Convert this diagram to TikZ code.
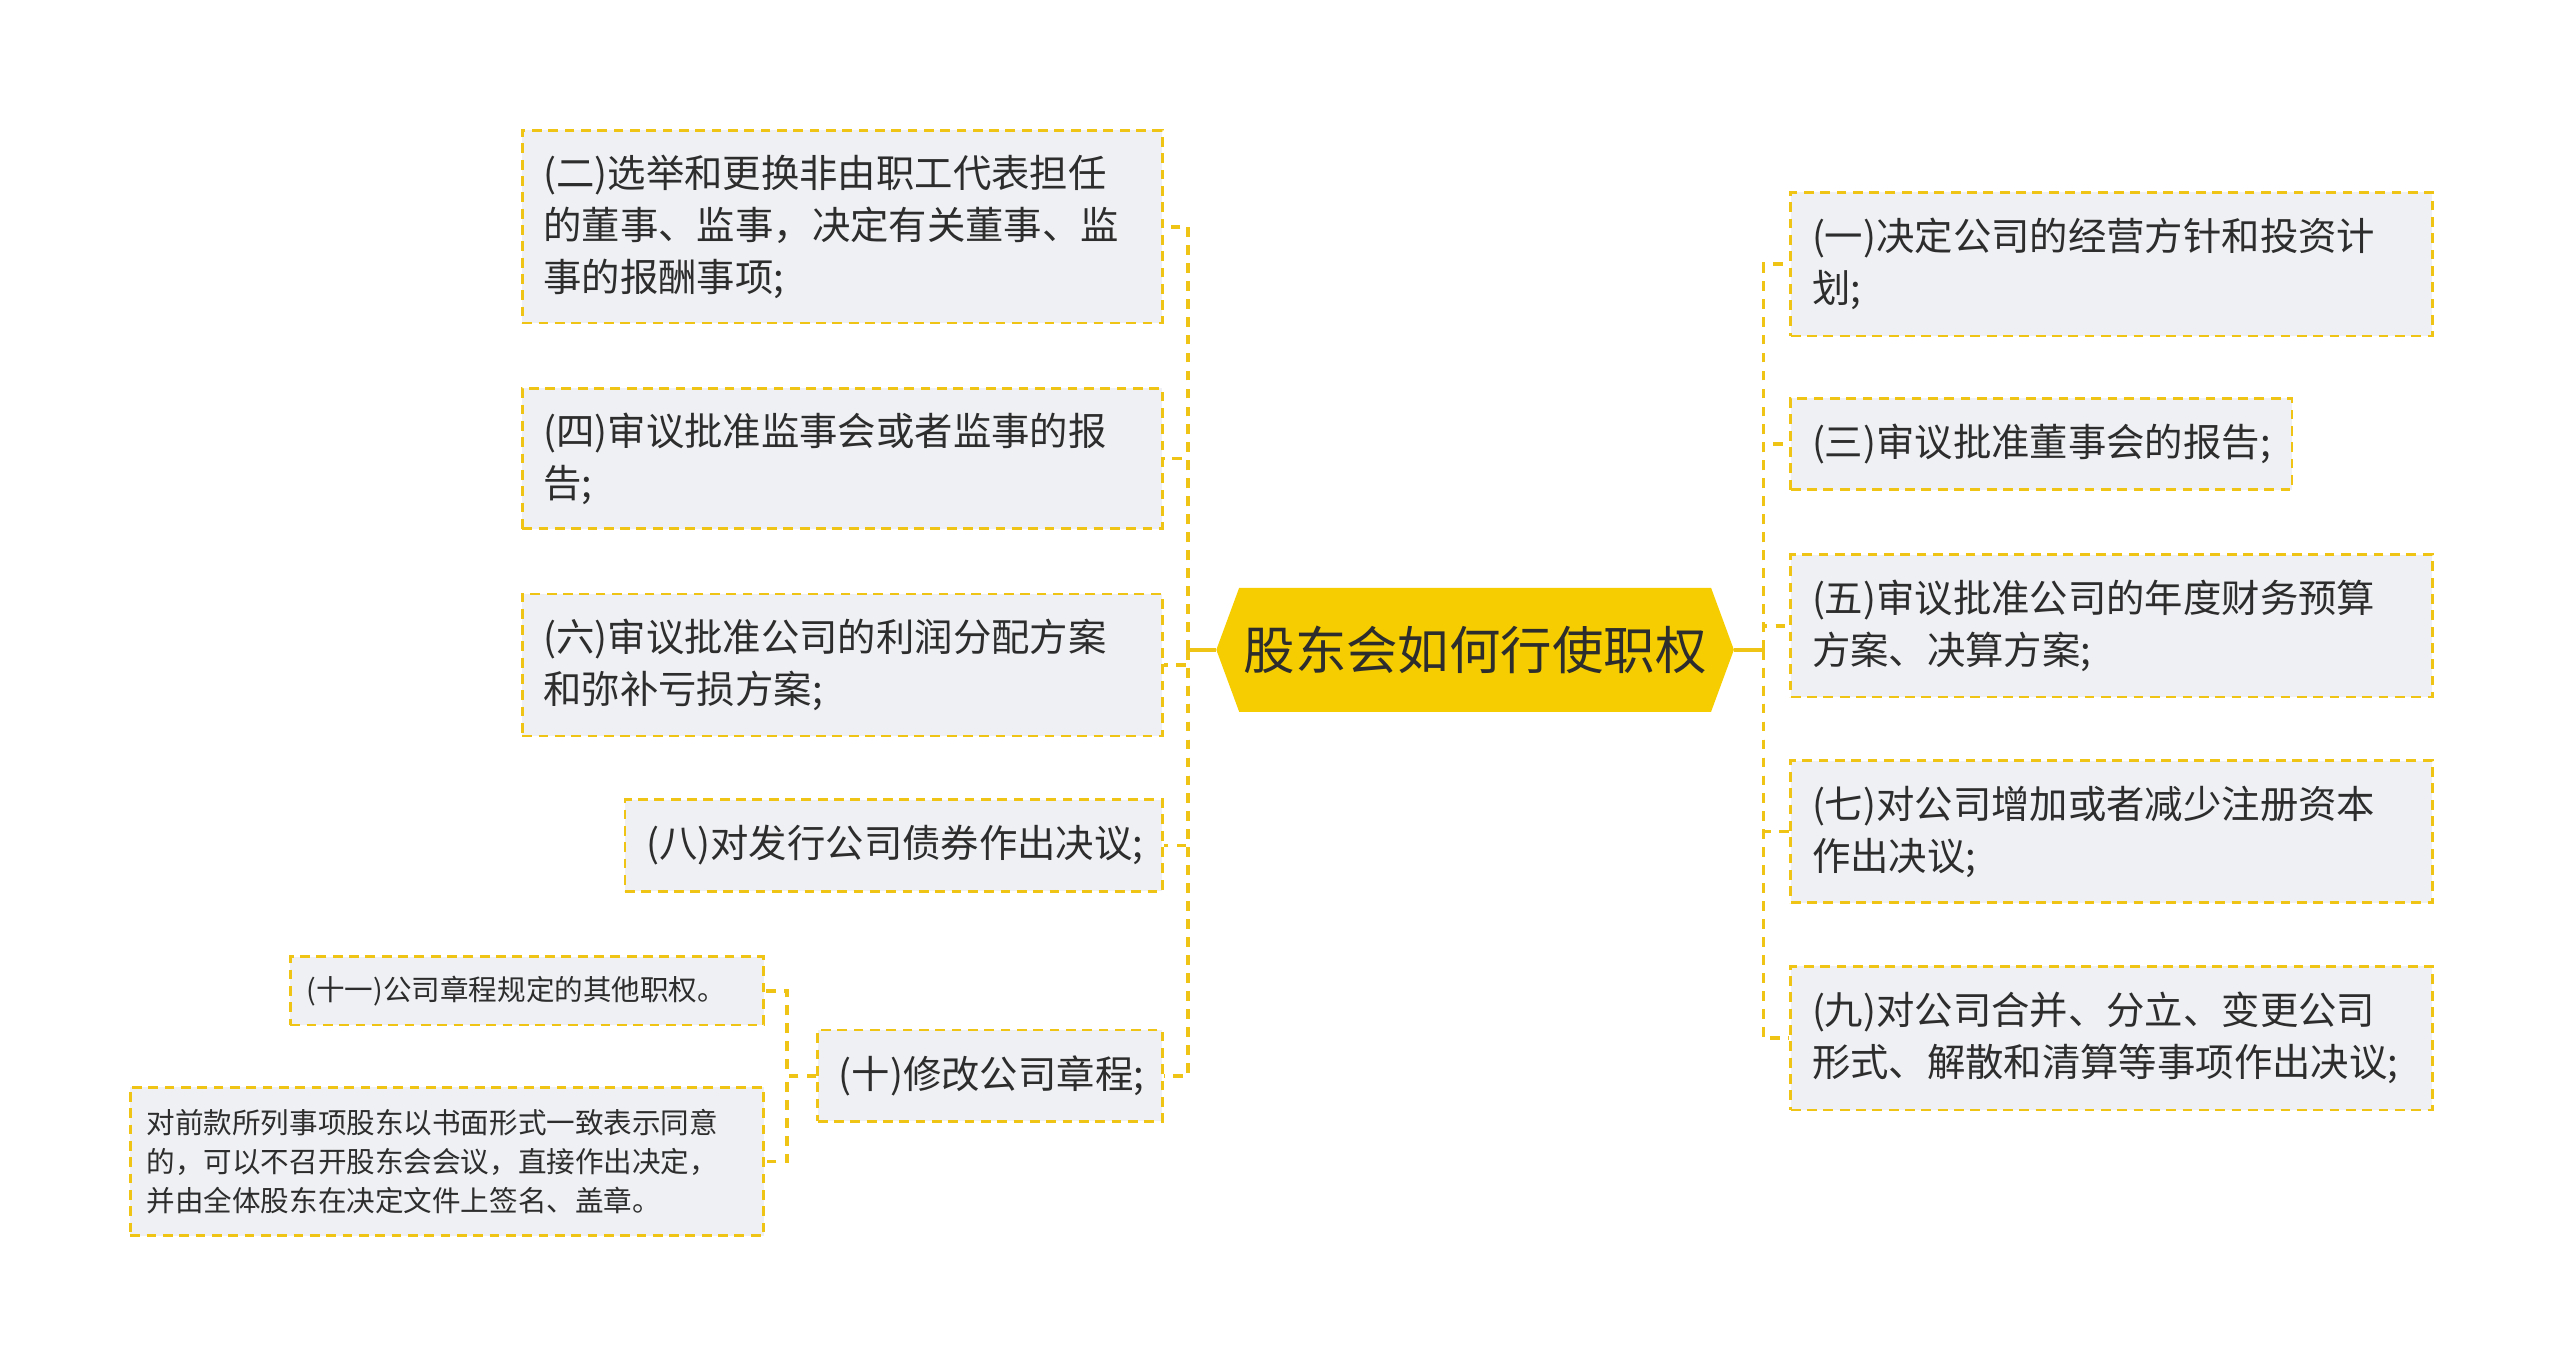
\documentclass[tikz,border=0pt]{standalone}
\usepackage{fontspec}
\setmainfont{Noto Sans CJK SC}
\definecolor{lineyel}{RGB}{240,196,20}
\definecolor{rootyel}{RGB}{245,205,0}
\definecolor{boxfill}{RGB}{238,240,243}
\definecolor{txt}{RGB}{45,45,45}
\begin{document}
\begin{tikzpicture}[x=1bp,y=-1bp,
  item/.style={draw=lineyel, fill=boxfill, dash pattern=on 6bp off 4bp, line width=1.7bp,
    anchor=north west, align=left, inner xsep=13bp, inner ysep=0pt, text=txt,
    font=\fontsize{23.5bp}{32bp}\selectfont},
  smallitem/.style={item, inner xsep=10bp, font=\fontsize{17.5bp}{24bp}\selectfont},
  conn/.style={draw=lineyel, line width=2.3bp, dash pattern=on 6bp off 5bp},
  stub/.style={draw=lineyel, line width=2.3bp},
  rootnode/.style={minimum width=317bp, minimum height=76bp, inner sep=0pt, text=txt,
    font=\fontsize{31.5bp}{36bp}\selectfont}]
\useasboundingbox[fill=white] (0,0) rectangle (1568,835);

% root
\fill[rootyel] (745,398) -- (759,360) -- (1048,360) -- (1062,398) -- (1048,436) -- (759,436) -- cycle;
\node[rootnode] (root) at (903.5,398) {股东会如何行使职权};

% left
\node[item, text width=366bp, minimum height=118bp] (L2) at (319,79)
  {(二)选举和更换非由职工代表担任\\的董事、监事，决定有关董事、监\\事的报酬事项;};
\node[item, text width=366bp, minimum height=86bp] (L4) at (319,237)
  {(四)审议批准监事会或者监事的报\\告;};
\node[item, text width=366bp, minimum height=87bp] (L6) at (319,363)
  {(六)审议批准公司的利润分配方案\\和弥补亏损方案;};
\node[item, text width=303bp, minimum height=56bp] (L8) at (382,489)
  {(八)对发行公司债券作出决议;};
\node[item, text width=185bp, minimum height=56bp] (L10) at (500,630)
  {(十)修改公司章程;};

% right
\node[item, text width=367bp, minimum height=88bp] (R1) at (1096,117)
  {(一)决定公司的经营方针和投资计\\划;};
\node[item, text width=281bp, minimum height=56bp] (R3) at (1096,243)
  {(三)审议批准董事会的报告;};
\node[item, text width=367bp, minimum height=87bp] (R5) at (1096,339)
  {(五)审议批准公司的年度财务预算\\方案、决算方案;};
\node[item, text width=367bp, minimum height=87bp] (R7) at (1096,465)
  {(七)对公司增加或者减少注册资本\\作出决议;};
\node[item, text width=367bp, minimum height=88bp] (R9) at (1096,591)
  {(九)对公司合并、分立、变更公司\\形式、解散和清算等事项作出决议;};

% small
\node[smallitem, text width=270bp, minimum height=42bp] (S11) at (177,585)
  {(十一)公司章程规定的其他职权。};
\node[smallitem, text width=368bp, minimum height=91bp] (S12) at (79,665)
  {对前款所列事项股东以书面形式一致表示同意\\的，可以不召开股东会会议，直接作出决定，\\并由全体股东在决定文件上签名、盖章。};

% junctions
\draw[stub] (root.west) -- ++(-17,0) coordinate (jl);
\draw[stub] (root.east) -- ++(18,0) coordinate (jr);
\coordinate (js) at ([xshift=-18bp]L10.west);

% connectors left
\foreach \n in {L2,L4,L6,L8,L10}
  \draw[conn] (jl) |- (\n.east);
% connectors right
\foreach \n in {R1,R3,R5,R7,R9}
  \draw[conn] (jr) |- (\n.west);
% sub connectors
\foreach \n in {S11,S12}
  \draw[conn] (L10.west) -- (js) |- (\n.east);
\end{tikzpicture}
\end{document}
